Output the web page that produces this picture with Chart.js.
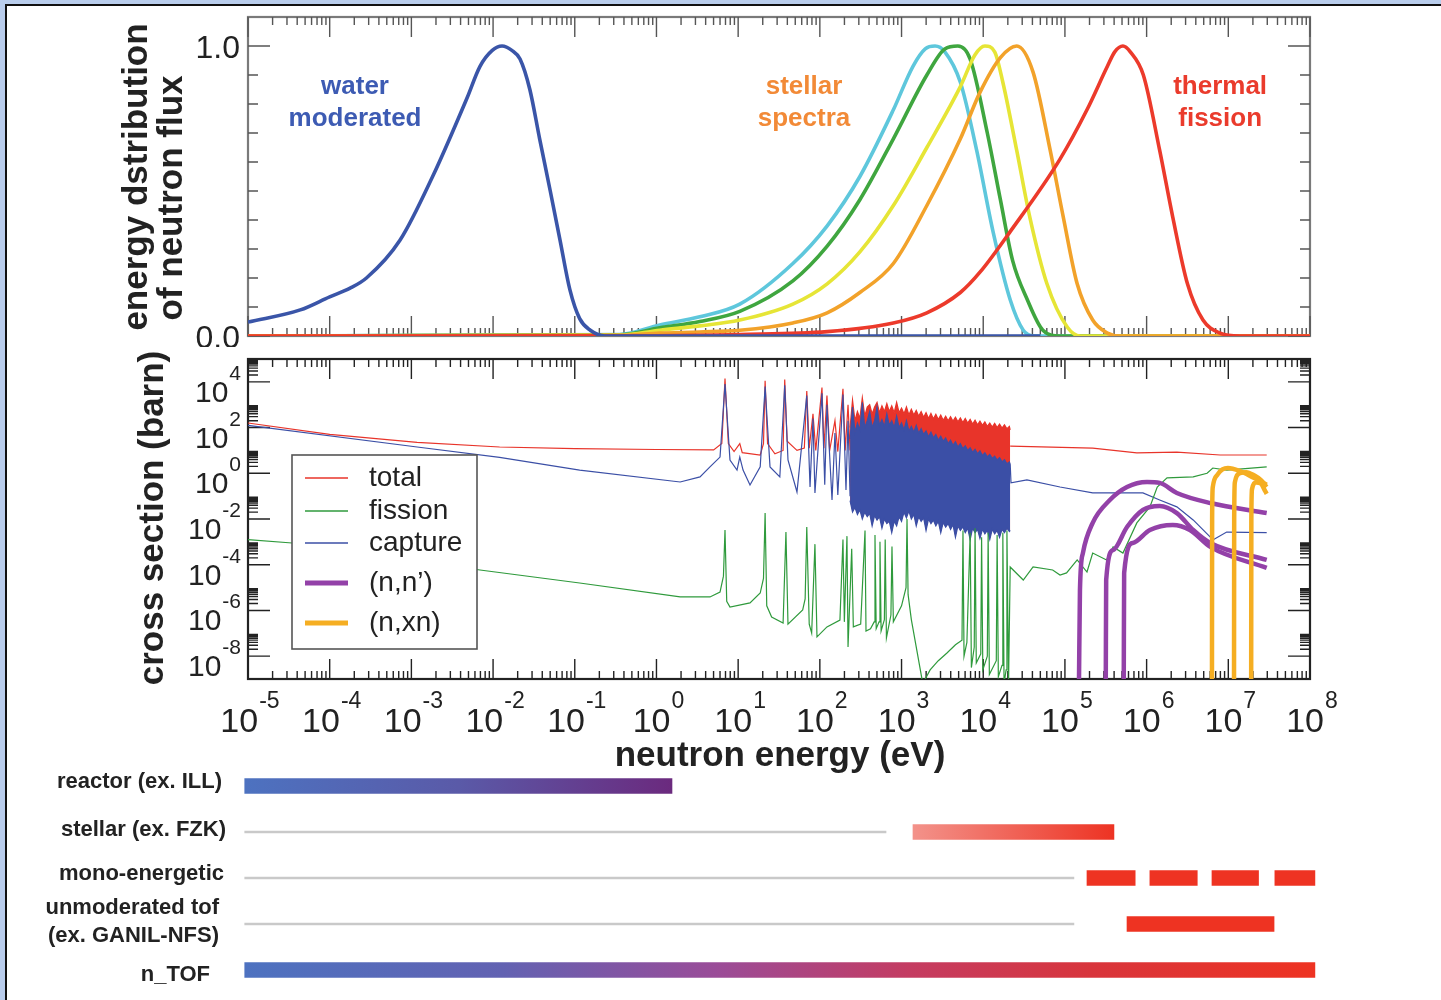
<!DOCTYPE html>
<html><head><meta charset="utf-8">
<script src="https://cdn.jsdelivr.net/npm/chart.js@4.4.1/dist/chart.umd.min.js"></script>
<style>
html,body{margin:0;padding:0;}
body{background:#b9cdec;width:1441px;height:1000px;overflow:hidden;position:relative;}
#frame{position:absolute;left:5px;top:4px;right:0;bottom:0;background:#fff;border-top:2px solid #111;border-left:2px solid #111;}
canvas{position:absolute;left:0;}
</style></head>
<body>
<div id="frame"></div>
<canvas id="c1" width="1441" height="347" style="top:0px"></canvas>
<canvas id="c2" width="1441" height="435" style="top:345px"></canvas>
<canvas id="c3" width="1441" height="232" style="top:762px"></canvas>
<script>
// ================= DATA =================
// Top panel: [log10(E/eV), relative flux]
const waterModerated = [[-5,0.048],[-4.36,0.09],[-4.0,0.135],[-3.75,0.165],[-3.55,0.20],[-3.14,0.33],[-2.74,0.55],[-2.32,0.82],[-2.16,0.93],[-2.01,0.985],[-1.89,1.0],[-1.77,0.985],[-1.67,0.955],[-1.55,0.85],[-1.43,0.68],[-1.30,0.50],[-1.18,0.33],[-1.06,0.16],[-0.94,0.06],[-0.81,0.02],[-0.63,0],[4.7,0]];
const stellar1 = [[-5,0],[-0.45,0.005],[0.04,0.038],[0.53,0.066],[1.02,0.11],[1.67,0.25],[2.09,0.38],[2.49,0.55],[2.90,0.78],[3.14,0.93],[3.29,0.99],[3.41,1.0],[3.53,0.98],[3.72,0.875],[3.92,0.64],[4.12,0.36],[4.33,0.125],[4.49,0.02],[4.63,0],[8,0]];
const stellar2 = [[-5,0],[-0.45,0.004],[0.04,0.028],[0.53,0.05],[1.02,0.085],[1.67,0.19],[2.09,0.31],[2.49,0.47],[2.90,0.68],[3.31,0.90],[3.53,0.99],[3.69,1.0],[3.84,0.955],[4.05,0.70],[4.21,0.47],[4.36,0.26],[4.54,0.125],[4.73,0.02],[4.94,0],[8,0]];
const stellar3 = [[-5,0],[-0.45,0.003],[0.04,0.02],[0.53,0.035],[1.02,0.055],[1.67,0.11],[2.09,0.18],[2.49,0.29],[2.90,0.45],[3.31,0.65],[3.72,0.86],[3.90,0.97],[4.02,1.0],[4.14,0.98],[4.24,0.875],[4.41,0.64],[4.57,0.41],[4.78,0.18],[5.03,0.03],[5.19,0],[8,0]];
const stellar4 = [[-5,0],[-0.45,0.002],[0.04,0.01],[0.53,0.014],[1.02,0.02],[1.67,0.045],[2.09,0.08],[2.49,0.15],[2.90,0.25],[3.31,0.45],[3.72,0.68],[3.96,0.84],[4.21,0.96],[4.41,1.0],[4.61,0.91],[4.82,0.64],[4.98,0.41],[5.15,0.18],[5.34,0.055],[5.52,0.01],[5.67,0],[8,0]];
const thermalFission = [[-5,0],[0.0,0.001],[1.02,0.005],[2.09,0.015],[2.90,0.045],[3.31,0.08],[3.72,0.15],[3.96,0.22],[4.33,0.36],[4.94,0.61],[5.27,0.78],[5.52,0.93],[5.61,0.98],[5.71,1.0],[5.80,0.98],[5.96,0.9],[6.16,0.64],[6.32,0.41],[6.50,0.18],[6.69,0.055],[6.90,0.01],[7.14,0],[8,0]];
const topNotes = [
  {lines:['water','moderated'], e:-3.69, v:0.834},
  {lines:['stellar','spectra'], e:1.806, v:0.834},
  {lines:['thermal','fission'], e:6.90, v:0.834}
];
const topYTicks = [[0,'0.0'],[1.0,'1.0']];

// Bottom panel: [log10(E/eV), log10(sigma/barn)]
const totalLow = [[-5,2.2],[-4,1.7],[-2.93,1.35],[-1.92,1.15],[-1,1.08],[0,1.04],[0.7,1.02],[0.80,1.3],[0.839,4.15],[0.88,1.3],[0.95,0.95],[1.02,1.3],[1.05,0.9],[1.27,0.8],[1.31,1.3],[1.33,4.05],[1.36,1.3],[1.45,0.85],[1.55,1.0],[1.57,4.1],[1.60,1.4],[1.72,1.0],[1.81,1.1],[1.84,3.6],[1.87,1.1],[1.916,2.6],[1.95,1.0],[2.026,3.75],[2.05,1.1],[2.087,3.4],[2.12,1.0],[2.185,2.3],[2.22,0.95],[2.283,3.7],[2.31,1.0],[2.345,3.0],[2.37,1.0]];
// dense resonance region: sample energies and band edges
const bandE = [2.37,2.40,2.43,2.46,2.49,2.52,2.55,2.58,2.61,2.64,2.67,2.70,2.73,2.76,2.79,2.82,2.85,2.88,2.91,2.94,2.97,3.00,3.03,3.06,3.09,3.12,3.15,3.18,3.21,3.24,3.27,3.30,3.33,3.36,3.39,3.42,3.45,3.48,3.51,3.54,3.57,3.60,3.63,3.66,3.69,3.72,3.75,3.78,3.81,3.84,3.87,3.90,3.93,3.96,3.99,4.02,4.05,4.08,4.11,4.14,4.17,4.20,4.23,4.26,4.29,4.32,4.33];
const totalBandTop = [2.0,3.2,2.3,2.7,2.4,3.3,2.5,2.9,3.0,2.6,2.9,3.1,2.65,2.95,2.7,3.05,2.7,2.95,2.65,3.1,2.65,2.85,2.6,2.9,2.55,2.8,2.55,2.75,2.5,2.7,2.45,2.65,2.4,2.62,2.38,2.58,2.35,2.55,2.32,2.5,2.3,2.48,2.28,2.45,2.25,2.42,2.22,2.4,2.2,2.36,2.15,2.32,2.12,2.28,2.1,2.25,2.05,2.2,2.02,2.18,2.0,2.15,1.98,2.12,1.95,2.05,1.9];
const captureBandTop = [1.5,2.9,1.8,2.2,1.9,3.1,2.0,2.3,2.7,2.0,2.3,2.9,2.1,2.35,2.05,2.6,2.1,2.3,2.0,2.5,2.0,2.2,1.9,2.3,1.85,2.05,1.8,2.1,1.75,1.95,1.7,1.85,1.6,1.8,1.55,1.7,1.45,1.62,1.4,1.55,1.3,1.45,1.22,1.38,1.15,1.3,1.08,1.2,1.0,1.12,0.92,1.05,0.85,0.98,0.78,0.9,0.72,0.82,0.65,0.75,0.58,0.68,0.5,0.6,0.42,0.5,0.4];
const captureBandBottom = [-1.2,-1.7,-1.5,-1.8,-1.6,-2.0,-1.7,-1.9,-1.75,-2.3,-1.85,-2.05,-1.9,-2.4,-2.0,-2.2,-2.1,-2.6,-2.1,-2.3,-1.9,-2.1,-1.7,-1.95,-1.65,-2.0,-1.8,-2.3,-1.9,-2.1,-1.95,-2.5,-2.0,-2.2,-2.05,-2.3,-2.1,-2.6,-2.15,-2.35,-2.2,-2.45,-2.25,-2.8,-2.3,-2.5,-2.35,-2.6,-2.4,-2.9,-2.4,-2.6,-2.45,-2.85,-2.45,-2.65,-2.5,-2.9,-2.45,-2.65,-2.5,-2.8,-2.45,-2.6,-2.4,-2.55,-2.5];
const totalHigh = [[4.33,1.19],[5.34,1.1],[5.88,0.89],[6.37,0.93],[6.9,0.8],[7.47,0.8]];
const captureLow = [[-5,2.1],[-2.93,1.15],[-1.92,0.7],[-0.94,0.14],[0.29,-0.38],[0.533,-0.16],[0.655,0.28],[0.778,0.71],[0.839,3.9],[0.90,0.58],[0.986,0.14],[1.02,0.71],[1.06,0.14],[1.145,-0.51],[1.27,0.28],[1.33,3.8],[1.39,0.28],[1.51,-0.16],[1.57,3.85],[1.61,0.58],[1.72,-0.82],[1.84,3.4],[1.88,-0.6],[1.916,2.4],[1.94,-0.86],[2.026,3.5],[2.06,-0.5],[2.087,3.0],[2.149,-1.17],[2.185,1.76],[2.22,-0.95],[2.283,3.45],[2.32,-0.73],[2.345,2.3],[2.37,-1.0]];
const captureHigh = [[4.33,0.4],[4.34,-0.42],[4.535,-0.29],[4.94,-0.6],[5.34,-0.86],[5.955,-0.86],[6.16,-1.17],[6.37,-1.47],[6.57,-2.04],[6.78,-2.79],[6.81,-2.92],[6.98,-2.57],[7.47,-2.6]];
const fission = [[-5,-2.9],[-4.46,-3.05],[-2.16,-4.23],[-0.94,-4.8],[0.29,-5.41],[0.655,-5.41],[0.778,-5.2],[0.82,-4.5],[0.839,-2.48],[0.86,-5.6],[0.90,-5.85],[1.145,-5.67],[1.27,-5.24],[1.31,-4.6],[1.33,-1.74],[1.35,-5.8],[1.41,-6.29],[1.55,-6.55],[1.585,-2.57],[1.61,-6.6],[1.79,-5.98],[1.82,-5.5],[1.84,-2.35],[1.87,-6.6],[1.90,-6.99],[1.94,-3.1],[1.965,-7.16],[2.087,-6.72],[2.246,-6.42],[2.283,-2.9],[2.30,-6.5],[2.332,-2.75],[2.345,-7.6],[2.39,-3.3],[2.41,-6.72],[2.5,-6.6],[2.553,-2.5],[2.565,-6.9],[2.62,-6.8],[2.665,-6.5],[2.675,-2.7],[2.69,-6.8],[2.725,-6.5],[2.736,-3.0],[2.75,-6.9],[2.79,-6.4],[2.80,-2.9],[2.815,-7.2],[2.87,-6.2],[2.883,-3.2],[2.9,-6.5],[3.0,-5.8],[3.055,-5.0],[3.067,-2.0],[3.08,-5.3],[3.12,-6.4],[3.26,-9.2],[3.35,-8.6],[3.45,-8.2],[3.556,-7.86],[3.66,-7.5],[3.74,-7.3],[3.752,-2.5],[3.765,-8.0],[3.80,-7.4],[3.84,-2.6],[3.855,-8.5],[3.89,-7.6],[3.90,-2.4],[3.915,-8.3],[3.97,-7.9],[3.98,-2.8],[3.995,-8.6],[4.05,-8.0],[4.06,-2.6],[4.075,-8.8],[4.16,-8.2],[4.17,-2.7],[4.185,-8.9],[4.23,-8.4],[4.24,-2.6],[4.255,-9.2],[4.28,-8.6],[4.29,-2.5],[4.31,-9.2],[4.33,-4.1],[4.49,-4.67],[4.61,-4.1],[4.85,-4.23],[4.94,-4.45],[5.02,-4.36],[5.15,-3.79],[5.27,-4.32],[5.34,-3.49],[5.51,-3.79],[5.59,-3.22],[5.71,-3.49],[5.88,-2.17],[6.04,-1.47],[6.13,-0.6],[6.25,-0.2],[6.57,-0.16],[6.74,0.0],[6.81,0.23],[6.98,0.14],[7.47,0.28]];
const inelastic1 = [[5.172,-9.2],[5.184,-5.1],[5.22,-3.49],[5.34,-2.17],[5.55,-1.17],[5.76,-0.6],[6.005,-0.38],[6.16,-0.42],[6.37,-0.86],[6.78,-1.3],[7.47,-1.74]];
const inelastic2 = [[5.50,-9.2],[5.505,-4.67],[5.59,-3.36],[5.76,-2.35],[5.955,-1.6],[6.16,-1.43],[6.37,-1.74],[6.57,-2.48],[6.78,-3.05],[7.47,-3.79]];
const inelastic3 = [[5.72,-9.2],[5.725,-4.36],[5.83,-3.05],[6.04,-2.48],[6.32,-2.26],[6.53,-2.48],[6.78,-3.22],[7.47,-4.14]];
const nxn1 = [[6.80,-9.2],[6.802,-2.0],[6.81,-0.6],[6.87,-0.05],[6.995,0.23],[7.14,0.1],[7.31,-0.2],[7.47,-0.5]];
const nxn2 = [[7.07,-9.2],[7.072,-2.0],[7.08,-0.4],[7.14,0.0],[7.22,0.05],[7.32,-0.1],[7.40,-0.3],[7.47,-0.6]];
const nxn3 = [[7.28,-9.2],[7.282,-2.0],[7.29,-0.7],[7.34,-0.4],[7.40,-0.45],[7.44,-0.7],[7.47,-0.9]];
const seriesNames = ['total','fission','capture','(n,n\u2019)','(n,xn)'];
const yLabelExps = [-8,-6,-4,-2,0,2,4];
const xLabelExps = [-5,-4,-3,-2,-1,0,1,2,3,4,5,6,7,8];

// Facilities panel: log10(E/eV) ranges
const facilities = ['reactor (ex. ILL)','stellar (ex. FZK)','mono-energetic',['unmoderated tof','(ex. GANIL-NFS)'],'n_TOF'];
const facilityRange = [[-5.04,0.19],[3.14,5.6],[5.27,5.86],[5.76,7.56],[-5.04,8.06]];
const facilityBaseline = [null,[-5.04,2.81],[-5.04,5.11],[-5.04,5.11],null];
const monoDash2 = [null,null,[6.04,6.62],null,null];
const monoDash3 = [null,null,[6.8,7.37],null,null];
const monoDash4 = [null,null,[7.57,8.06],null,null];

// ================= STYLE / LAYOUT =================
const FONT = '"Liberation Sans", Helvetica, Arial, sans-serif';
const COL = {water:'#3a55a8', cyan:'#5ec7dc', green:'#3fa63f', yellow:'#e6e536', orange:'#f2a22a', red:'#ec3a2b',
  total:'#e8342a', capture:'#3b4fa6', fission:'#2f9a3c', inel:'#9341a8', nxn:'#f5ae22'};
const noteColors = ['#3d5bb3','#f28a37','#ea3b2c'];
const labelRight = [222, 226, 224, 219, 210];
const labelShift = [-4, -2, -4, 0, 5];
const barStops = [
  [[0,'#4d72c0'],[0.5,'#5a5aa8'],[1,'#6b2a7e']],
  [[0,'#f3928a'],[1,'#ed3323']],
  [[0,'#ee3322'],[1,'#ee3322']],
  [[0,'#ee3322'],[1,'#ee3322']],
  [[0,'#4d72c0'],[0.24,'#6262b2'],[0.44,'#9a4c98'],[0.62,'#c43c62'],[0.79,'#d8353c'],[1,'#ee3322']]
];

const linPts = arr => arr.map(([e,v]) => ({x: Math.pow(10,e), y: v}));
const logPts = arr => arr.map(([e,s]) => ({x: Math.pow(10,e), y: Math.pow(10,s)}));
const bandPts = vals => bandE.map((e,i) => ({x: Math.pow(10,e), y: Math.pow(10,vals[i])}));
const pow10Pair = r => r ? [Math.pow(10,r[0]), Math.pow(10,r[1])] : null;

function xTicks(c, chart, maj, min, color) {
  const sx = chart.scales.x, a = chart.chartArea;
  const e0 = Math.round(Math.log10(sx.min)), e1 = Math.round(Math.log10(sx.max));
  c.save(); c.strokeStyle = color; c.lineWidth = 1.4; c.beginPath();
  for (let e = e0; e <= e1; e++) for (let m = 1; m <= 9; m++) {
    const v = m * Math.pow(10, e); if (v > sx.max * 1.0001) break;
    const x = sx.getPixelForValue(v), L = m === 1 ? maj : min;
    c.moveTo(x, a.top); c.lineTo(x, a.top + L);
    c.moveTo(x, a.bottom); c.lineTo(x, a.bottom - L);
  }
  c.stroke(); c.restore();
}
function hTick(c, a, y, L) { c.moveTo(a.left, y); c.lineTo(a.left + L, y); c.moveTo(a.right, y); c.lineTo(a.right - L, y); }
function rotText(c, text, x, y, font) {
  c.save(); c.translate(x, y); c.rotate(-Math.PI/2); c.font = font; c.textAlign = 'center'; c.textBaseline = 'alphabetic';
  c.fillText(text, 0, 0); c.restore();
}

// ================= TOP CHART =================
const topDecor = {
  id: 'topDecor',
  beforeDatasetsDraw(chart) {
    const c = chart.ctx, a = chart.chartArea, sy = chart.scales.y;
    c.save();
    c.strokeStyle = '#7a7a7a'; c.lineWidth = 2.2; c.strokeRect(a.left, a.top, a.width, a.height);
    xTicks(c, chart, 20, 8, '#555');
    c.strokeStyle = '#555'; c.lineWidth = 1.4; c.beginPath();
    for (let i = 0; i <= 10; i++) hTick(c, a, sy.getPixelForValue(i/10), (i === 0 || i === 10) ? 22 : 10);
    c.stroke(); c.restore();
  },
  afterDraw(chart) {
    const c = chart.ctx, sx = chart.scales.x, sy = chart.scales.y;
    c.save(); c.fillStyle = '#222';
    c.font = '32px ' + FONT; c.textAlign = 'right'; c.textBaseline = 'alphabetic';
    topYTicks.forEach(([v, t]) => c.fillText(t, 240, sy.getPixelForValue(v) + 12));
    rotText(c, 'energy dstribution', 147, 177, 'bold 35px ' + FONT);
    rotText(c, 'of neutron flux', 182, 198, 'bold 35px ' + FONT);
    c.font = 'bold 26px ' + FONT; c.textAlign = 'center';
    topNotes.forEach((n, k) => {
      c.fillStyle = noteColors[k];
      const x = sx.getPixelForValue(Math.pow(10, n.e)), y = sy.getPixelForValue(n.v);
      n.lines.forEach((t, i) => c.fillText(t, x, y + i * 32));
    });
    c.restore();
  }
};
const topLine = (data, color, order) => ({data: linPts(data), borderColor: color, borderWidth: 3.6, order, pointRadius: 0, cubicInterpolationMode: 'monotone', fill: false});
new Chart(document.getElementById('c1'), {
  type: 'line',
  data: { datasets: [
    topLine(waterModerated, COL.water, 1),
    topLine(thermalFission, COL.red, 2),
    topLine(stellar4, COL.orange, 3),
    topLine(stellar3, COL.yellow, 4),
    topLine(stellar2, COL.green, 5),
    topLine(stellar1, COL.cyan, 6)
  ]},
  options: {
    responsive: false, animation: false, events: [],
    layout: {padding: {left: 248, right: 131, top: 17, bottom: 11}},
    plugins: {legend: {display: false}, tooltip: {enabled: false}},
    scales: {
      x: {type: 'logarithmic', min: 1e-5, max: 1e8, display: false},
      y: {type: 'linear', min: 0, max: 1.1, display: false}
    }
  },
  plugins: [topDecor]
});

// ================= BOTTOM CHART =================
function powLabel(c, x, y, exp, f1, f2, rise, align) {
  const s = String(exp);
  c.font = f1; const w1 = c.measureText('10').width;
  c.font = f2; const w2 = c.measureText(s).width;
  let x0;
  if (align === 'center') x0 = x - (w1 + 1 + w2) / 2; else x0 = x - (w1 + 1 + w2);
  c.textAlign = 'left';
  c.font = f1; c.fillText('10', x0, y);
  c.font = f2; c.fillText(s, x0 + w1 + 1, y - rise);
}
const bottomDecor = {
  id: 'bottomDecor',
  beforeDatasetsDraw(chart) {
    const c = chart.ctx, a = chart.chartArea, sy = chart.scales.y;
    c.save();
    c.strokeStyle = '#222'; c.lineWidth = 2.2; c.strokeRect(a.left, a.top, a.width, a.height);
    xTicks(c, chart, 20, 8, '#222');
    c.strokeStyle = '#222'; c.lineWidth = 1.4; c.beginPath();
    yLabelExps.forEach(e => {
      hTick(c, a, sy.getPixelForValue(Math.pow(10, e)), 22);
      for (let m = 2; m <= 9; m++) hTick(c, a, sy.getPixelForValue(m * Math.pow(10, e)), 10);
    });
    c.stroke(); c.restore();
  },
  afterDraw(chart) {
    const c = chart.ctx, a = chart.chartArea, sx = chart.scales.x, sy = chart.scales.y;
    c.save(); c.fillStyle = '#222'; c.textBaseline = 'alphabetic';
    yLabelExps.forEach(e => powLabel(c, 241, sy.getPixelForValue(Math.pow(10, e)) + 20, e, '30px ' + FONT, '21px ' + FONT, 22, 'right'));
    xLabelExps.forEach(e => powLabel(c, sx.getPixelForValue(Math.pow(10, e)) + 2, a.bottom + 53, e, '34px ' + FONT, '23px ' + FONT, 24, 'center'));
    c.font = 'bold 35px ' + FONT; c.textAlign = 'center';
    c.fillText('neutron energy (eV)', 780, a.bottom + 87);
    rotText(c, 'cross section (barn)', 163, 173, 'bold 35px ' + FONT);
    // legend
    const bx = a.left + 44, by = a.top + 96, bw = 185, bh = 194;
    c.fillStyle = '#fff'; c.fillRect(bx, by, bw, bh);
    c.strokeStyle = '#555'; c.lineWidth = 1.6; c.strokeRect(bx, by, bw, bh);
    const rows = [23, 56, 88, 128, 168];
    seriesNames.forEach((name, i) => {
      const ds = chart.data.datasets.find(d => d.label === name);
      const y = by + rows[i];
      c.strokeStyle = ds.borderColor; c.lineWidth = ds.borderWidth > 2 ? 5 : 1.6;
      c.beginPath(); c.moveTo(bx + 13, y); c.lineTo(bx + 56, y); c.stroke();
      c.fillStyle = '#222'; c.font = '28px ' + FONT; c.textAlign = 'left'; c.textBaseline = 'middle';
      c.fillText(name, bx + 77, y);
    });
    c.restore();
  }
};
const thin = (label, data, color, order, extra) => Object.assign({label, data, borderColor: color, backgroundColor: color, borderWidth: 1.2, order, pointRadius: 0, tension: 0, fill: false}, extra || {});
const thick = (label, data, color, order) => ({label, data: logPts(data), borderColor: color, borderWidth: 4.5, order, pointRadius: 0, cubicInterpolationMode: 'monotone', fill: false});
const ds2 = [
  thick('(n,xn)', nxn1, COL.nxn, 1),
  thick('(n,xn)', nxn2, COL.nxn, 1),
  thick('(n,xn)', nxn3, COL.nxn, 1),
  thick('(n,n\u2019)', inelastic1, COL.inel, 2),
  thick('(n,n\u2019)', inelastic2, COL.inel, 2),
  thick('(n,n\u2019)', inelastic3, COL.inel, 2),
  thin('fission', logPts(fission), COL.fission, 3),
  thin('capture', logPts(captureLow), COL.capture, 4),
  thin('capture band', bandPts(captureBandTop), COL.capture, 4),
  thin('capture band', bandPts(captureBandBottom), COL.capture, 4, {fill: '-1'}),
  thin('capture', logPts(captureHigh), COL.capture, 4),
  thin('total', logPts(totalLow), COL.total, 5),
  thin('total band', bandPts(totalBandTop), COL.total, 5, {fill: 9}),
  thin('total', logPts(totalHigh), COL.total, 5)
];
new Chart(document.getElementById('c2'), {
  type: 'line',
  data: { datasets: ds2 },
  options: {
    responsive: false, animation: false, events: [],
    layout: {padding: {left: 248, right: 131, top: 14, bottom: 101}},
    plugins: {legend: {display: false}, tooltip: {enabled: false}, filler: {propagate: false}},
    scales: {
      x: {type: 'logarithmic', min: 1e-5, max: 1e8, display: false},
      y: {type: 'logarithmic', min: 1e-9, max: 1e5, display: false}
    }
  },
  plugins: [bottomDecor]
});

// ================= FACILITIES CHART =================
const barDecor = {
  id: 'barDecor',
  afterDraw(chart) {
    const c = chart.ctx, sy = chart.scales.y;
    c.save(); c.fillStyle = '#222'; c.font = 'bold 22px ' + FONT; c.textAlign = 'right'; c.textBaseline = 'middle';
    chart.data.labels.forEach((lab, i) => {
      const y = sy.getPixelForValue(i) + labelShift[i];
      if (Array.isArray(lab)) { c.fillText(lab[0], labelRight[i], y - 16); c.fillText(lab[1], labelRight[i], y + 12); }
      else c.fillText(lab, labelRight[i], y);
    });
    c.restore();
  }
};
function barFill(ctx) {
  const solid = '#ee3322';
  if (ctx.type !== 'data') return solid;
  const chart = ctx.chart, sx = chart.scales && chart.scales.x, r = ctx.raw;
  if (!r || !sx || !chart.chartArea) return solid;
  const x0 = sx.getPixelForValue(r[0]), x1 = sx.getPixelForValue(r[1]);
  if (!isFinite(x0) || !isFinite(x1) || x0 === x1) return solid;
  const g = chart.ctx.createLinearGradient(x0, 0, x1, 0);
  barStops[ctx.dataIndex].forEach(([p, col]) => g.addColorStop(p, col));
  return g;
}
const barSet = (data, color, thickness) => ({data: data.map(pow10Pair), backgroundColor: color, barThickness: thickness, grouped: false, borderWidth: 0, borderSkipped: false, clip: false});
const barChart = new Chart(document.getElementById('c3'), {
  type: 'bar',
  data: { labels: facilities, datasets: [
    barSet(facilityRange, barFill, 15),
    barSet(monoDash2, '#ee3322', 15),
    barSet(monoDash3, '#ee3322', 15),
    barSet(monoDash4, '#ee3322', 15),
    barSet(facilityBaseline, '#c9c9c9', 2)
  ]},
  options: {
    indexAxis: 'y', responsive: false, animation: false, events: [],
    layout: {padding: {left: 248, right: 131, top: 1, bottom: 1}},
    plugins: {legend: {display: false}, tooltip: {enabled: false}},
    scales: {
      x: {type: 'logarithmic', min: 1e-5, max: 1e8, display: false},
      y: {type: 'category', display: false, offset: true}
    }
  },
  plugins: [barDecor]
});
barChart.update('none');
</script>
</body></html>
